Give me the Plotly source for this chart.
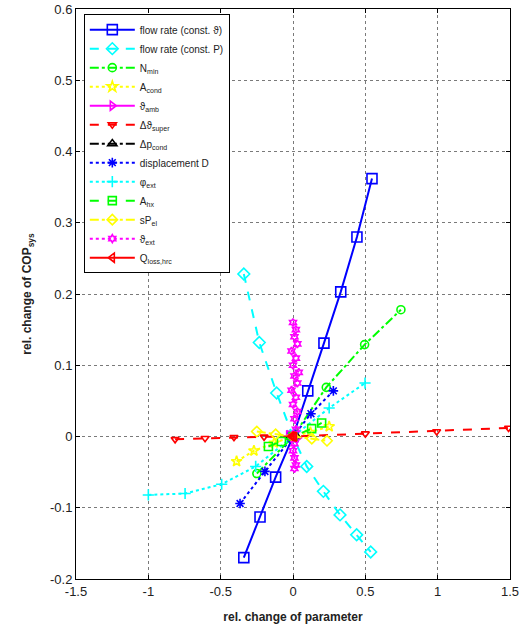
import plotly.graph_objects as go

# ---- data ----
flow_T_x = [-0.34, -0.228, -0.12, 0.0, 0.102, 0.214, 0.33, 0.442, 0.546]
flow_T_y = [-0.170, -0.113, -0.057, 0.0, 0.064, 0.131, 0.203, 0.280, 0.362]

flow_P_x = [-0.34, -0.233, -0.113, 0.0, 0.095, 0.21, 0.325, 0.44, 0.537]
flow_P_y = [0.228, 0.132, 0.061, 0.0, -0.042, -0.077, -0.110, -0.138, -0.162]

nmin_x = [-0.25, 0.0, 0.23, 0.495, 0.746]
nmin_y = [-0.052, 0.0, 0.069, 0.129, 0.178]

acond_x = [-0.39, -0.27, -0.13, 0.0, 0.12, 0.25]
acond_y = [-0.035, -0.020, -0.009, 0.0, 0.006, 0.014]

tamb_x = [-0.03, -0.015, 0.0, 0.015, 0.03]
tamb_y = [0.002, 0.001, 0.0, -0.001, -0.002]

dtsup_x = [-0.815, -0.608, -0.408, -0.2, 0.0, 0.5, 0.993, 1.49]
dtsup_y = [-0.004, -0.0025, -0.001, -0.0005, 0.0, 0.004, 0.007, 0.012]

dpcond_x = [-0.02, 0.0, 0.02]
dpcond_y = [-0.001, 0.0, 0.001]

disp_x = [-0.366, -0.194, 0.0, 0.124, 0.279]
disp_y = [-0.094, -0.049, 0.0, 0.032, 0.064]

phi_x = [-1.0, -0.746, -0.493, -0.258, 0.0, 0.25, 0.498]
phi_y = [-0.082, -0.080, -0.067, -0.042, 0.0, 0.040, 0.075]

ahx_x = [-0.17, -0.08, 0.0, 0.129, 0.198]
ahx_y = [-0.014, -0.007, 0.0, 0.011, 0.019]

spel_x = [-0.25, -0.12, 0.0, 0.13, 0.235]
spel_y = [0.007, 0.003, 0.0, -0.003, -0.006]

text_x = [0.00, 0.02, 0.01, 0.03, -0.01, 0.02, 0.00, 0.04, 0.01, 0.03, -0.01,
          0.02, 0.00, 0.03, 0.01, 0.02, 0.00, 0.01, 0.00, 0.01, 0.02, 0.01]
text_y = [0.160, 0.150, 0.140, 0.130, 0.120, 0.110, 0.100, 0.090, 0.085, 0.075, 0.065,
          0.055, 0.045, 0.035, 0.025, 0.010, 0.0, -0.010, -0.020, -0.030, -0.040, -0.045]

qloss_x = [-0.01, 0.0, 0.01]
qloss_y = [0.0005, 0.0, -0.0005]

x_ticks = [-1.5, -1, -0.5, 0, 0.5, 1, 1.5]
x_tick_labels = ["-1.5", "-1", "-0.5", "0", "0.5", "1", "1.5"]
y_ticks = [-0.2, -0.1, 0, 0.1, 0.2, 0.3, 0.4, 0.5, 0.6]
y_tick_labels = ["-0.2", "-0.1", "0", "0.1", "0.2", "0.3", "0.4", "0.5", "0.6"]

series = [
    ("flow rate (const. ϑ)", flow_T_x, flow_T_y, "#0000FF", "solid", "square-open", 10, 2),
    ("flow rate (const. P)", flow_P_x, flow_P_y, "#00FFFF", "dash", "diamond-open", 9, 2),
    ("N<sub>min</sub>", nmin_x, nmin_y, "#00FF00", "dashdot", "circle-open", 8, 2),
    ("A<sub>cond</sub>", acond_x, acond_y, "#FFFF00", "dot", "star-open", 8, 2),
    ("ϑ<sub>amb</sub>", tamb_x, tamb_y, "#FF00FF", "solid", "triangle-right-open", 8, 2),
    ("Δϑ<sub>super</sub>", dtsup_x, dtsup_y, "#FF0000", "dash", "triangle-down-open", 7, 2),
    ("Δp<sub>cond</sub>", dpcond_x, dpcond_y, "#000000", "dashdot", "triangle-up-open", 8, 2),
    ("displacement D", disp_x, disp_y, "#0000FF", "dot", "asterisk-open", 8, 2),
    ("φ<sub>ext</sub>", phi_x, phi_y, "#00FFFF", "dot", "cross-thin-open", 8, 2),
    ("A<sub>hx</sub>", ahx_x, ahx_y, "#00FF00", "dash", "square-open", 8, 2),
    ("sP<sub>el</sub>", spel_x, spel_y, "#FFFF00", "dashdot", "diamond-open", 8, 2),
    ("ϑ<sub>ext</sub>", text_x, text_y, "#FF00FF", "dot", "hexagram-open", 6, 2),
    ("Q<sub>loss,hrc</sub>", qloss_x, qloss_y, "#FF0000", "solid", "triangle-left-open", 8, 2),
]

fig = go.Figure()
for name, xs, ys, col, dash, sym, sz, lw in series:
    fig.add_trace(go.Scatter(
        x=xs, y=ys, name=name, mode="lines+markers",
        line=dict(color=col, dash=dash, width=lw),
        marker=dict(symbol=sym, size=sz, color=col, line=dict(color=col, width=1.6)),
    ))

axis_common = dict(
    showline=True, linecolor="black", linewidth=1, mirror="allticks",
    ticks="inside", ticklen=4, tickcolor="black",
    showgrid=True, gridcolor="#7a7a7a", griddash="dot", gridwidth=1,
    zeroline=False, automargin=False,
    tickfont=dict(family="Liberation Sans, Arial", size=13, color="#222"),
)

fig.update_layout(
    width=523, height=626,
    margin=dict(l=76, r=13, t=9, b=47),
    paper_bgcolor="white", plot_bgcolor="white",
    xaxis=dict(range=[-1.5, 1.5], tickvals=x_ticks, ticktext=x_tick_labels,
               title=dict(text="<b>rel. change of parameter</b>",
                          font=dict(family="Liberation Sans, Arial", size=12, color="#222")),
               **axis_common),
    yaxis=dict(range=[-0.2, 0.6], tickvals=y_ticks, ticktext=y_tick_labels,
               title=dict(text="<b>rel. change of COP<sub>sys</sub></b>",
                          font=dict(family="Liberation Sans, Arial", size=12, color="#222")),
               **axis_common),
    legend=dict(x=0.018, y=0.991, xanchor="left", yanchor="top",
                bgcolor="white", bordercolor="black", borderwidth=1,
                font=dict(family="Liberation Sans, Arial", size=10, color="#222"),
                itemwidth=45, tracegroupgap=0),
    showlegend=True,
)

fig.write_html("out.html", config={"displayModeBar": False},
               post_script="document.body.style.margin='0';document.body.style.overflow='hidden';")
